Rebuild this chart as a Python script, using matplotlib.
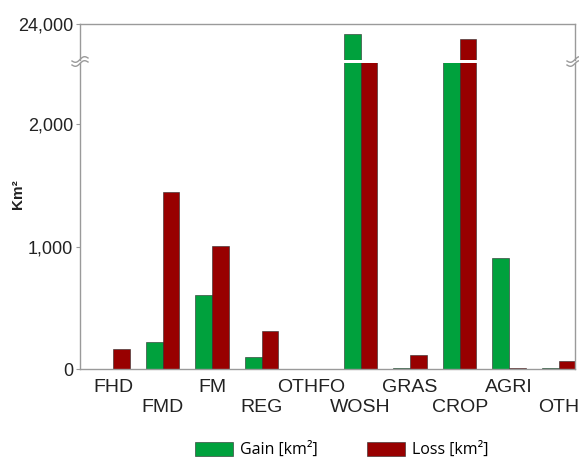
import numpy as np
import matplotlib
matplotlib.use("Agg")
import matplotlib.pyplot as plt
import matplotlib.transforms as mtransforms

categories = ["FHD", "FMD", "FM", "REG", "OTHFO", "WOSH", "GRAS", "CROP", "AGRI", "OTH"]
gain = [0, 218, 604, 100, 0, 22900, 10, 16000, 904, 8]
loss = [163, 1445, 1002, 310, 0, 15000, 112, 22350, 10, 68]
series_labels = ["Gain [km²]", "Loss [km²]"]
lower_ticks = [0, 1000, 2000]
upper_ticks = [24000]

GREEN = "#00a13d"
RED = "#980000"
SPINE = "#9a9a9a"
TXT = "#222222"

plt.rcParams["font.family"] = ["Liberation Sans", "DejaVu Sans"]
W, H = 579, 462
fig = plt.figure(figsize=(W / 100, H / 100), dpi=100)

ax_lo = fig.add_axes([80 / W, 1 - 369 / H, 495 / W, (369 - 62.75) / H])
ax_hi = fig.add_axes([80 / W, 1 - 60 / H, 495 / W, 36 / H])

x = np.arange(len(categories))
bw = 0.34
for ax in (ax_lo, ax_hi):
    ax.bar(x - bw, gain, width=bw, align="edge", color=GREEN,
           edgecolor="#2a2a2a", linewidth=0.4, label=series_labels[0])
    ax.bar(x, loss, width=bw, align="edge", color=RED,
           edgecolor="#2a2a2a", linewidth=0.4, label=series_labels[1])
    ax.set_xlim(-0.67, 9.33)
    for s in ax.spines.values():
        s.set_color(SPINE)
        s.set_linewidth(1.0)
    ax.tick_params(axis="y", colors=SPINE, labelcolor=TXT, labelsize=13,
                   length=3, width=0.8, direction="out", pad=2)

ax_lo.set_ylim(0, 2500)
ax_lo.set_yticks(lower_ticks)
ax_lo.set_yticklabels([f"{v:,}" for v in lower_ticks])
ax_lo.spines["top"].set_visible(False)
ax_lo.set_xticks(x)
ax_lo.set_xticklabels(categories, fontsize=14, color=TXT)
ax_lo.tick_params(axis="x", length=0, pad=7)
shift = mtransforms.ScaledTranslation(0, -20 / 100, fig.dpi_scale_trans)
for i, lab in enumerate(ax_lo.get_xticklabels()):
    if i % 2 == 1:
        lab.set_transform(lab.get_transform() + shift)

ax_hi.set_ylim(20000, 24000)
ax_hi.set_yticks(upper_ticks)
ax_hi.set_yticklabels([f"{v:,}" for v in upper_ticks])
ax_hi.spines["bottom"].set_visible(False)
ax_hi.set_xticks([])

# break marks on left and right spines
for xp in (80, 575):
    t = np.linspace(-1, 1, 30)
    for dy in (-2.0, 2.0):
        xs = xp + 8 * t
        ys = 61.5 + dy - 2.0 * np.sin(np.pi * t) - 1.5 * t
        fig.add_artist(plt.Line2D(xs / W, 1 - ys / H, color=SPINE, lw=1.0,
                                  transform=fig.transFigure))

fig.text(18 / W, 1 - 194 / H, "Km²", rotation=90, ha="center", va="center",
         fontsize=11, fontweight="bold", color=TXT)

handles, labels = ax_lo.get_legend_handles_labels()
fig.legend(handles, labels, loc="center", bbox_to_anchor=(342 / W, 1 - 450 / H),
           ncol=2, frameon=False, prop={"family": ["Open Sans", "DejaVu Sans"], "size": 11.5},
           handlelength=2.38, handleheight=0.95, handletextpad=0.44, columnspacing=3.1)

fig.savefig("out.png", dpi=100)
